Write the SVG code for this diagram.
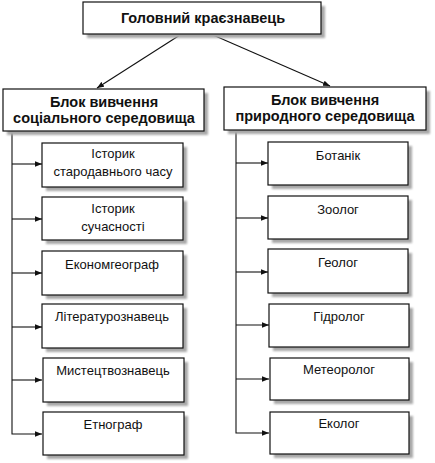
<svg xmlns="http://www.w3.org/2000/svg" width="435" height="463" viewBox="0 0 435 463">
<defs>
<marker id="ah" viewBox="0 0 10 10" refX="10" refY="5" markerWidth="7" markerHeight="7" markerUnits="userSpaceOnUse" orient="auto"><path d="M0,1 L10,5 L0,9 z" fill="#111"/></marker>
<filter id="sh" x="-10%" y="-10%" width="130%" height="140%"><feGaussianBlur stdDeviation="0.8"/></filter>
</defs>
<style>
.box{fill:#fff;stroke:#111;stroke-width:1.2}
.shadow{fill:#a8a8a8;filter:url(#sh)}
.t{font-family:"Liberation Sans",Arial,sans-serif;fill:#111;text-anchor:middle}
.b{font-weight:bold;font-size:14.5px}
.r{font-size:13px}
.c{stroke:#111;stroke-width:1.1;fill:none}
</style>
<rect width="435" height="463" fill="#fff"/>
<g id="connectors">
<line class="c" x1="180" y1="35" x2="97" y2="88" marker-end="url(#ah)"/>
<line class="c" x1="213" y1="35" x2="330" y2="86" marker-end="url(#ah)"/>
<polyline class="c" points="12,132 12,434 42,434" marker-end="url(#ah)"/>
<line class="c" x1="12" y1="164" x2="42" y2="164" marker-end="url(#ah)"/>
<line class="c" x1="12" y1="219" x2="42" y2="219" marker-end="url(#ah)"/>
<line class="c" x1="12" y1="273" x2="42" y2="273" marker-end="url(#ah)"/>
<line class="c" x1="12" y1="327" x2="42" y2="327" marker-end="url(#ah)"/>
<line class="c" x1="12" y1="380" x2="42" y2="380" marker-end="url(#ah)"/>
<polyline class="c" points="236,131 236,433 269,433" marker-end="url(#ah)"/>
<line class="c" x1="236" y1="163" x2="268" y2="163" marker-end="url(#ah)"/>
<line class="c" x1="236" y1="218" x2="268" y2="218" marker-end="url(#ah)"/>
<line class="c" x1="236" y1="272" x2="268" y2="272" marker-end="url(#ah)"/>
<line class="c" x1="236" y1="325" x2="269" y2="325" marker-end="url(#ah)"/>
<line class="c" x1="236" y1="379" x2="269" y2="379" marker-end="url(#ah)"/>
</g>
<g id="root">
<rect class="shadow" x="87" y="6" width="238" height="32"/>
<rect class="box" x="83" y="2" width="238" height="32"/>
<text class="t b" x="203" y="23">Головний краєзнавець</text>
</g>
<g id="block-social">
<rect class="shadow" x="7" y="93" width="201" height="42"/>
<rect class="box" x="3" y="89" width="201" height="42"/>
<text class="t b" x="104" y="107">Блок вивчення</text>
<text class="t b" x="104" y="123">соціального середовища</text>
</g>
<g id="block-nature">
<rect class="shadow" x="228" y="91" width="202" height="43"/>
<rect class="box" x="224" y="87" width="202" height="43"/>
<text class="t b" x="325" y="105">Блок вивчення</text>
<text class="t b" x="325" y="121">природного середовища</text>
</g>
<g id="s1"><rect class="shadow" x="46" y="147" width="141" height="44"/><rect class="box" x="42" y="143" width="141" height="44"/>
<text class="t r" x="113" y="158">Історик</text><text class="t r" x="113" y="176">стародавнього часу</text></g>
<g id="s2"><rect class="shadow" x="46" y="201" width="141" height="43"/><rect class="box" x="42" y="197" width="141" height="43"/>
<text class="t r" x="113" y="213">Історик</text><text class="t r" x="113" y="231">сучасності</text></g>
<g id="s3"><rect class="shadow" x="46" y="255" width="141" height="44"/><rect class="box" x="42" y="251" width="141" height="44"/>
<text class="t r" x="112" y="269">Економгеограф</text></g>
<g id="s4"><rect class="shadow" x="46" y="308" width="141" height="44"/><rect class="box" x="42" y="304" width="141" height="44"/>
<text class="t r" x="112" y="321">Літературознавець</text></g>
<g id="s5"><rect class="shadow" x="47" y="362" width="141" height="44"/><rect class="box" x="43" y="358" width="141" height="44"/>
<text class="t r" x="113" y="375">Мистецтвознавець</text></g>
<g id="s6"><rect class="shadow" x="47" y="416" width="141" height="43"/><rect class="box" x="43" y="412" width="141" height="43"/>
<text class="t r" x="113" y="429">Етнограф</text></g>
<g id="n1"><rect class="shadow" x="272" y="146" width="140" height="43"/><rect class="box" x="268" y="142" width="140" height="43"/>
<text class="t r" x="338" y="160">Ботанік</text></g>
<g id="n2"><rect class="shadow" x="272" y="200" width="140" height="43"/><rect class="box" x="268" y="196" width="140" height="43"/>
<text class="t r" x="338" y="214">Зоолог</text></g>
<g id="n3"><rect class="shadow" x="272" y="253" width="140" height="44"/><rect class="box" x="268" y="249" width="140" height="44"/>
<text class="t r" x="338" y="267">Геолог</text></g>
<g id="n4"><rect class="shadow" x="273" y="308" width="140" height="43"/><rect class="box" x="269" y="304" width="140" height="43"/>
<text class="t r" x="339" y="321">Гідролог</text></g>
<g id="n5"><rect class="shadow" x="274" y="362" width="139" height="42"/><rect class="box" x="270" y="358" width="139" height="42"/>
<text class="t r" x="339" y="374">Метеоролог</text></g>
<g id="n6"><rect class="shadow" x="274" y="416" width="139" height="42"/><rect class="box" x="270" y="412" width="139" height="42"/>
<text class="t r" x="339" y="428">Еколог</text></g>
</svg>
